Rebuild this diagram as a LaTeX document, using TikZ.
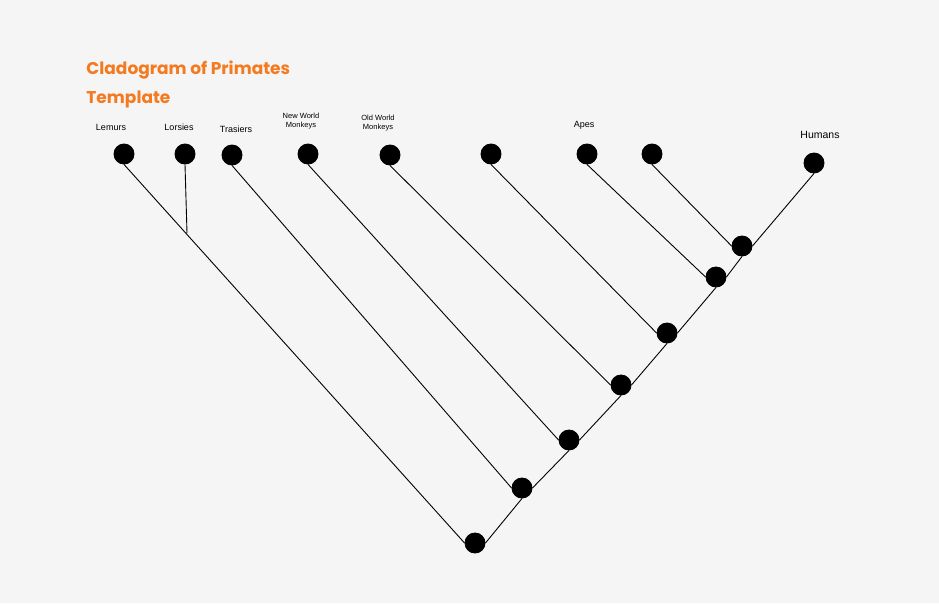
\documentclass[tikz,border=0pt]{standalone}
\usepackage{fontspec}
\setmainfont{Liberation Sans}
\newfontfamily\titlefont{Poppins}[BoldFont={* Bold}]
\definecolor{bgrey}{HTML}{F5F5F5}
\definecolor{titleorange}{HTML}{F47A1F}
\usetikzlibrary{positioning}
\tikzstyle{dot}=[draw,circle,fill=black,inner sep=0pt,minimum
size=20pt]
\tikzstyle{lbl}=[inner sep=0pt,font=\fontsize{9}{10}\selectfont,align=center]
\tikzstyle{small}=[lbl,font=\fontsize{7.5}{9.5}\selectfont]

\begin{document}
\begin{tikzpicture}[x=1pt, y=-1pt, line width=.9pt]
  \fill[bgrey] (0,0) rectangle (939,603);
  \useasboundingbox (0,0) rectangle (939,603);

  % title
  \node[anchor=north west, inner sep=0pt, align=left, text=titleorange,
    font=\titlefont\bfseries\fontsize{17}{29}\selectfont] (title) at (86,60)
    {Cladogram of Primates\\Template};

  % tips
  \node[dot] (lem) at (124,154) {};
  \node[dot] (lor) at (185,154) {};
  \node[dot] (tra) at (232,155) {};
  \node[dot] (nwm) at (308,154) {};
  \node[dot] (owm) at (390,155) {};
  \node[dot] (x1) at (491,154) {};
  \node[dot] (ape1) at (587,154) {};
  \node[dot] (ape2) at (652,154) {};
  \node[dot] (hum) at (814,163) {};

  % branch points
  \node[dot] (b7) at (742,246) {};
  \node[dot] (b6) at (716,277) {};
  \node[dot] (b5) at (667,333) {};
  \node[dot] (b4) at (621,385) {};
  \node[dot] (b3) at (569,440) {};
  \node[dot] (b2) at (522,488) {};
  \node[dot] (b1) at (475,543) {};
  \coordinate (lj) at (187,233);

  % labels
  \node[lbl] (llem) at (111,127) {Lemurs};
  \node[lbl] (llor) at (179,127) {Lorsies};
  \node[lbl] (ltra) at (236,129) {Trasiers};
  \node[small] (lnwm) at (301,121) {New World\\Monkeys};
  \node[small] (lowm) at (378,123) {Old World\\Monkeys};
  \node[lbl] (lape) at (584,125) {Apes};
  \node[lbl, font=\fontsize{10.5}{12}\selectfont] (lhum) at (820,135) {Humans};

  \draw (lem.south) -- (b1.west) (lor.south) -- (lj) (tra.south) -- (b2.west)
    (nwm.south) -- (b3.west) (owm.south) -- (b4.west) (x1.south) -- (b5.west)
    (ape1.south) -- (b6.west) (ape2.south) -- (b7.west) (hum.south) -- (b7.east);
  \draw (b1.east) -- (b2.south) (b2.east) -- (b3.south) (b3.east) -- (b4.south)
    (b4.east) -- (b5.south) (b5.east) -- (b6.south) (b6.east) -- (b7.south);
\end{tikzpicture}
\end{document}
